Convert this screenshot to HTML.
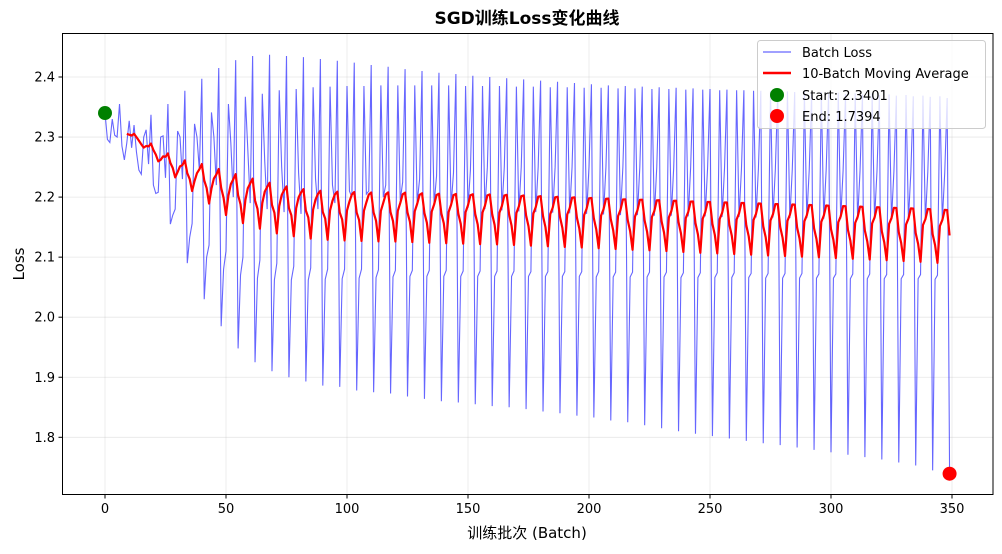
<!DOCTYPE html>
<html><head><meta charset="utf-8"><style>
body{margin:0;background:#fff;}
svg text{font-family:"DejaVu Sans","Liberation Sans","Noto Sans CJK SC",sans-serif;fill:#000;}
</style></head><body>
<svg id="chart" width="1002" height="549" xmlns="http://www.w3.org/2000/svg">
<rect width="1002" height="549" fill="#fff"/>
<g id="grid"></g>
<g id="series"></g>
<rect x="62.5" y="33.5" width="930.5" height="461" fill="none" stroke="#000" stroke-width="1"/>
<g id="axes"></g>
<text x="527" y="24" text-anchor="middle" font-size="17" font-weight="bold">SGD训练Loss变化曲线</text>
<text x="527" y="538" text-anchor="middle" font-size="15">训练批次 (Batch)</text>
<text transform="translate(24,264) rotate(-90)" text-anchor="middle" font-size="15">Loss</text>
<g>
<rect x="757.5" y="40.5" width="228" height="88" rx="3" fill="#fff" fill-opacity="0.8" stroke="#ccc"/>
<g><line x1="763" y1="52" x2="791" y2="52" stroke="#0000ff" stroke-opacity="0.6" stroke-width="1.2"/><text x="802" y="57" font-size="13">Batch Loss</text></g>
<g><line x1="763" y1="73" x2="791" y2="73" stroke="#ff0000" stroke-width="2.5"/><text x="802" y="78" font-size="13">10-Batch Moving Average</text></g>
<g><circle cx="777" cy="95" r="7" fill="#008000"/><text x="802" y="100" font-size="13">Start: 2.3401</text></g>
<g><circle cx="777" cy="116" r="7" fill="#ff0000"/><text x="802" y="121" font-size="13">End: 1.7394</text></g>
</g>
</svg>
<script>
const xTicks=[0,50,100,150,200,250,300,350];
const yTicks=[1.8,1.9,2.0,2.1,2.2,2.3,2.4];
const lossValues=[
2.340,2.296,2.291,2.330,2.303,2.300,2.355,
2.285,2.262,2.290,2.327,2.282,2.320,2.275,
2.245,2.238,2.300,2.312,2.255,2.337,2.220,
2.206,2.208,2.300,2.302,2.232,2.355,2.155,
2.170,2.180,2.310,2.300,2.230,2.377,2.090,
2.133,2.156,2.322,2.300,2.245,2.397,2.030,
2.100,2.120,2.341,2.300,2.220,2.415,1.985,
2.080,2.110,2.355,2.290,2.200,2.428,1.948,
2.070,2.100,2.367,2.280,2.190,2.435,1.925,
2.065,2.095,2.372,2.260,2.180,2.437,1.910,
2.062,2.090,2.378,2.250,2.175,2.435,1.900,
2.062,2.085,2.380,2.240,2.172,2.433,1.893,
2.062,2.082,2.383,2.230,2.180,2.430,1.886,
2.063,2.080,2.384,2.220,2.190,2.427,1.884,
2.064,2.080,2.385,2.210,2.200,2.424,1.878,
2.065,2.080,2.385,2.205,2.210,2.420,1.875,
2.066,2.079,2.386,2.200,2.220,2.417,1.873,
2.067,2.078,2.386,2.195,2.225,2.413,1.868,
2.068,2.078,2.386,2.190,2.230,2.410,1.864,
2.068,2.078,2.386,2.188,2.235,2.407,1.860,
2.068,2.078,2.386,2.185,2.240,2.405,1.858,
2.068,2.077,2.385,2.182,2.245,2.402,1.855,
2.068,2.077,2.385,2.180,2.250,2.400,1.852,
2.068,2.077,2.385,2.178,2.250,2.398,1.850,
2.068,2.077,2.384,2.176,2.250,2.396,1.847,
2.068,2.076,2.384,2.175,2.250,2.394,1.843,
2.068,2.076,2.383,2.174,2.250,2.392,1.840,
2.068,2.076,2.383,2.173,2.250,2.390,1.836,
2.068,2.076,2.382,2.172,2.250,2.388,1.833,
2.067,2.076,2.382,2.171,2.250,2.386,1.828,
2.067,2.075,2.381,2.170,2.250,2.385,1.825,
2.067,2.075,2.381,2.170,2.250,2.384,1.820,
2.067,2.075,2.380,2.169,2.250,2.383,1.815,
2.067,2.075,2.380,2.169,2.249,2.382,1.810,
2.066,2.074,2.379,2.168,2.249,2.381,1.806,
2.066,2.074,2.379,2.168,2.248,2.380,1.802,
2.066,2.074,2.378,2.167,2.248,2.379,1.798,
2.066,2.074,2.378,2.167,2.247,2.378,1.794,
2.066,2.073,2.377,2.166,2.247,2.377,1.790,
2.065,2.073,2.377,2.166,2.246,2.376,1.787,
2.065,2.073,2.376,2.165,2.246,2.375,1.783,
2.065,2.073,2.376,2.165,2.245,2.374,1.779,
2.065,2.072,2.375,2.164,2.245,2.373,1.775,
2.065,2.072,2.374,2.164,2.244,2.372,1.771,
2.064,2.072,2.373,2.163,2.244,2.371,1.767,
2.064,2.072,2.372,2.163,2.243,2.370,1.763,
2.064,2.071,2.371,2.162,2.243,2.369,1.758,
2.064,2.071,2.370,2.162,2.242,2.368,1.753,
2.064,2.071,2.369,2.161,2.242,2.367,1.745,
2.063,2.070,2.368,2.161,2.241,2.365,1.7394];
const maWindow=10;

const NS="http://www.w3.org/2000/svg";
const X0=105,XS=2.42;
function xPos(v){return X0+v*XS;}
function yPos(v){return 77+(2.4-v)*(437.3-77)/0.6;}
function mk(tag,attrs,parent){const e=document.createElementNS(NS,tag);for(const k in attrs)e.setAttribute(k,attrs[k]);parent.appendChild(e);return e;}
const grid=document.getElementById('grid'),axes=document.getElementById('axes'),series=document.getElementById('series');
xTicks.forEach(t=>{const x=xPos(t);
 const g=mk('line',{x1:x,y1:33.5,x2:x,y2:494.5,stroke:'#b0b0b0','stroke-opacity':0.3,'stroke-width':0.8},grid);
 
 
 const tk=mk('line',{x1:x,y1:494.5,x2:x,y2:498.5,stroke:'#000'},axes);
 
 
 const tx=mk('text',{x:x,y:513,'text-anchor':'middle','font-size':13},axes);tx.textContent=t;
 
 
});
yTicks.forEach(t=>{const y=yPos(t);
 const g=mk('line',{x1:62.5,y1:y,x2:993,y2:y,stroke:'#b0b0b0','stroke-opacity':0.3,'stroke-width':0.8},grid);
 
 
 const tk=mk('line',{x1:58.5,y1:y,x2:62.5,y2:y,stroke:'#000'},axes);
 
 
 const tx=mk('text',{x:55,y:y+4.5,'text-anchor':'end','font-size':13},axes);tx.textContent=t.toFixed(1);
 
 
});
const lp=lossValues.map((v,i)=>xPos(i).toFixed(2)+','+yPos(v).toFixed(2)).join(' ');
const bl=mk('polyline',{points:lp,fill:'none',stroke:'#0000ff','stroke-opacity':0.6,'stroke-width':1.1},series);


const ma=[];
for(let i=maWindow-1;i<lossValues.length;i++){let s=0;for(let j=i-maWindow+1;j<=i;j++)s+=lossValues[j];ma.push(xPos(i).toFixed(2)+','+yPos(s/maWindow).toFixed(2));}
const ml=mk('polyline',{points:ma.join(' '),fill:'none',stroke:'#ff0000','stroke-width':2.2,'stroke-linejoin':'round'},series);


const last=lossValues.length-1;
const sp=mk('circle',{cx:xPos(0),cy:yPos(lossValues[0]),r:7,fill:'#008000'},series);


const ep=mk('circle',{cx:xPos(last),cy:yPos(lossValues[last]),r:7,fill:'#ff0000'},series);


</script>
</body></html>
